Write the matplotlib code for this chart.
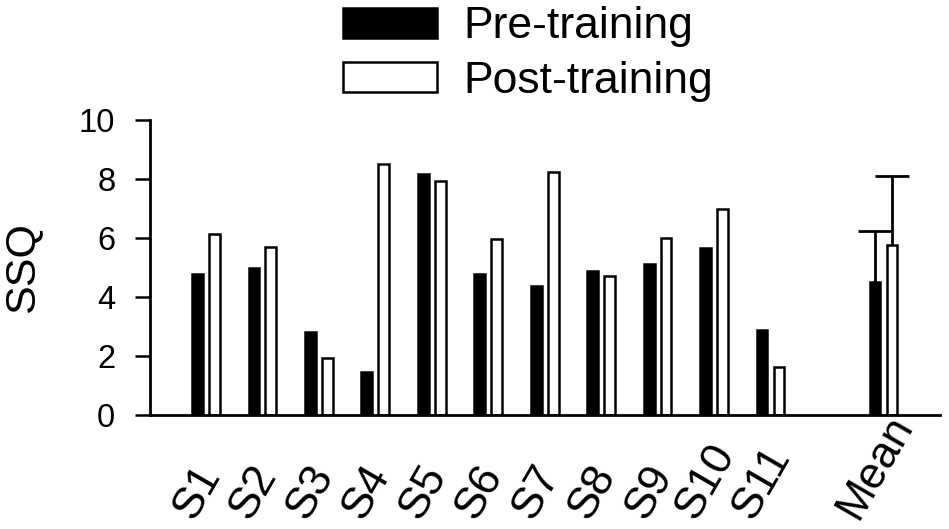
import matplotlib
matplotlib.use("Agg")
import matplotlib.pyplot as plt
import matplotlib.transforms as mtransforms
import numpy as np

plt.rcParams['font.family'] = ['Liberation Sans', 'DejaVu Sans']

categories = ["S1", "S2", "S3", "S4", "S5", "S6", "S7", "S8", "S9", "S10", "S11", "Mean"]
positions = [0, 1, 2, 3, 4, 5, 6, 7, 8, 9, 10, 12]
pre = [4.78, 4.99, 2.82, 1.47, 8.17, 4.78, 4.38, 4.89, 5.11, 5.65, 2.88, 4.51]
post = [6.14, 5.71, 1.93, 8.52, 7.93, 5.97, 8.25, 4.70, 6.00, 6.98, 1.64, 5.77]
mean_err_pre = 1.74
mean_err_post = 2.32
yticks = [0, 2, 4, 6, 8, 10]

fig = plt.figure(figsize=(9.49, 5.29), dpi=100)
ax = fig.add_axes([150/949, (529-415)/529, (940-150)/949, (415-120)/529])

x = np.array(positions, dtype=float)
off = 0.15
w = 0.19
lw = 1.8
ax.bar(x - off, pre, width=w, color='black', edgecolor='black', linewidth=lw, label='Pre-training', zorder=2)
ax.bar(x + off, post, width=w, color='white', edgecolor='black', linewidth=lw, label='Post-training', zorder=2)

# error bars for mean (upper only)
mx = x[-1]
for xx, yy, ee in [(mx - off, pre[-1], mean_err_pre), (mx + off, post[-1], mean_err_post)]:
    line, caps, bars = ax.errorbar([xx], [yy], yerr=[[0], [ee]], fmt='none', ecolor='black',
                                   elinewidth=2.0, capsize=12, capthick=2.0, zorder=3)
    caps[0].set_visible(False)

ax.set_xlim(-0.99, 13.0)
ax.set_ylim(0, 10)
ax.set_yticks(yticks)
ax.set_yticklabels([str(t) for t in yticks], fontsize=23.5)
ax.tick_params(axis='y', direction='out', length=11, width=1.8, pad=14)
ax.set_xticks([])
for s in ['top', 'right']:
    ax.spines[s].set_visible(False)
for s in ['left', 'bottom']:
    ax.spines[s].set_linewidth(2.0)

ax.set_ylabel('SSQ', fontsize=31)
ax.yaxis.set_label_coords(-0.136, 0.5)

trans = mtransforms.blended_transform_factory(ax.transData, ax.transAxes)
for xx, lab in zip(x, categories):
    ax.text(xx - off, -0.376, lab, transform=trans, rotation=60, ha='center', va='bottom',
            fontsize=32, clip_on=False)

fig.legend(loc='upper left', bbox_to_anchor=(343/949, 0.988), frameon=False, fontsize=32,
           handlelength=2.12, handleheight=0.68, handletextpad=0.58, labelspacing=0.3,
           borderpad=0, borderaxespad=0)

fig.savefig('out.png', dpi=100)
